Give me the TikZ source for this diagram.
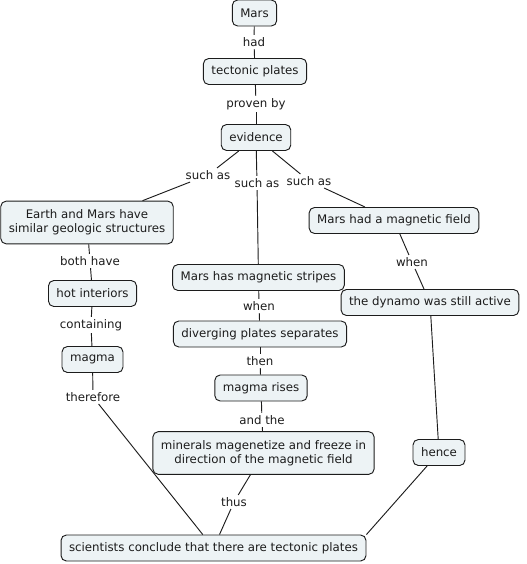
\documentclass[tikz,border=0pt]{standalone}
\usepackage{fontspec}
\setmainfont{DejaVu Sans}
\usetikzlibrary{graphs}

\definecolor{cmapfill}{HTML}{EDF3F5}
\definecolor{cmapink}{HTML}{1C1C1C}

\begin{document}
\begin{tikzpicture} [x=0.75pt, y=-0.75pt, line width=0.7pt, draw=cmapink, text=cmapink,
        every node/.style={font=\fontsize{8.85pt}{10.8pt}\selectfont, align=center},
        concept/.style={draw=cmapink, fill=cmapfill, rounded corners=4pt, inner xsep=6pt, inner ysep=4pt, minimum height=19.5pt},
        twoline/.style={minimum height=32pt},
        linkword/.style={inner sep=1.5pt}]
            \useasboundingbox (0, 0) rectangle (526, 564);

            \node[concept] (mars) at (254.5, 13)        {Mars};
            \node[concept] (tp) at (255, 71.5)          {tectonic plates};
            \node[concept] (ev) at (256, 137.5)         {evidence};
            \node[concept, twoline] (earth) at (87, 222.5) {Earth and Mars have\\similar geologic structures};
            \node[concept] (magfield) at (394, 220.5)   {Mars had a magnetic field};
            \node[concept] (stripes) at (258.5, 277.5)  {Mars has magnetic stripes};
            \node[concept] (dynamo) at (430, 302.5)     {the dynamo was still active};
            \node[concept] (hot) at (92.5, 293.5)       {hot interiors};
            \node[concept] (diverging) at (260, 334)    {diverging plates separates};
            \node[concept] (magma) at (92.5, 359.5)     {magma};
            \node[concept] (rises) at (261, 388)        {magma rises};
            \node[concept, twoline] (minerals) at (263.5, 453) {minerals magenetize and freeze in\\direction of the magnetic field};
            \node[concept] (hence) at (439, 452.5)      {hence};
            \node[concept] (sci) at (213.5, 548)        {scientists conclude that there are tectonic plates};

            \node[linkword] (had) at (254, 42)          {had};
            \node[linkword] (provenby) at (256, 104)    {proven by};
            \node[linkword] (suchL) at (208, 175)       {such as};
            \node[linkword] (suchM) at (257, 183)       {such as};
            \node[linkword] (suchR) at (309, 181)       {such as};
            \node[linkword] (bothhave) at (90, 261)     {both have};
            \node[linkword] (whenR) at (412, 262)       {when};
            \node[linkword] (whenM) at (259, 306)       {when};
            \node[linkword] (containing) at (91, 325)   {containing};
            \node[linkword] (then) at (260, 361)        {then};
            \node[linkword] (therefore) at (93, 397)    {therefore};
            \node[linkword] (andthe) at (262, 420)      {and the};
            \node[linkword] (thus) at (234, 502)        {thus};


            \graph {
                (mars) -- (had) -- (tp) -- (provenby) -- (ev);
                (ev) -- (suchL) -- (earth);
                (ev) -- (suchM) -- (stripes);
                (ev) -- (suchR) -- (magfield);
                (earth) -- (bothhave) -- (hot) -- (containing) -- (magma) -- (therefore) -- (sci);
                (stripes) -- (whenM) -- (diverging) -- (then) -- (rises) -- (andthe) -- (minerals) -- (thus) -- (sci);
                (magfield) -- (whenR) -- (dynamo) -- (hence);
            };
            \draw (hence) -- (sci.north east);
        \end{tikzpicture}
\end{document}
